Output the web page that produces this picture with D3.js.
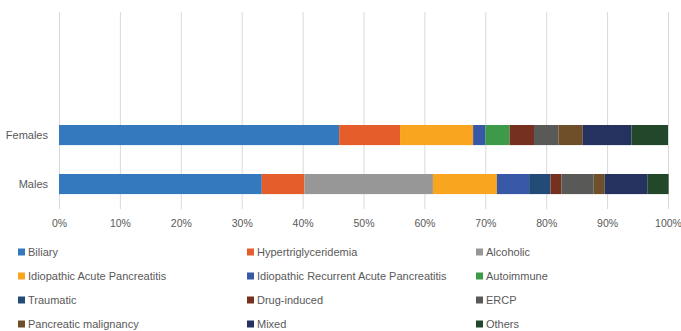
<!DOCTYPE html>
<html>
<head>
<meta charset="utf-8">
<script src="https://cdn.jsdelivr.net/npm/d3@7"></script>
<style>
  body{margin:0;background:#fff;}
  text{font-family:"Liberation Sans",Arial,sans-serif;fill:#595959;}
</style>
</head>
<body>
<div id="chart"></div>
<script>
// categories, top to bottom
var categories = ["Females", "Males"];
// series names, in stacking order
var causes = ["Biliary", "Hypertriglyceridemia", "Alcoholic",
    "Idiopathic Acute Pancreatitis", "Idiopathic Recurrent Acute Pancreatitis", "Autoimmune",
    "Traumatic", "Drug-induced", "ERCP",
    "Pancreatic malignancy", "Mixed", "Others"];
// share of each cause, in %
var females = [46.0, 10.0, 0.0, 12.0, 2.0, 4.0, 0.0, 4.0, 4.0, 4.0, 8.0, 6.0];
var males   = [33.3, 7.0, 21.1, 10.5, 5.3, 0.0, 3.5, 1.8, 5.3, 1.8, 7.0, 3.5];
var ticks = [0, 10, 20, 30, 40, 50, 60, 70, 80, 90, 100];
var colors = ["#3479bd", "#e55d2b", "#979797", "#f9a51f", "#3758a7", "#3d9a48",
    "#224b78", "#76301f", "#595a58", "#6e4f2a", "#25325f", "#22472a"];

var width = 681, height = 331;
var svg = d3.select("#chart").append("svg")
    .attr("width", width).attr("height", height);

var x = d3.scaleLinear().domain([0, 100]).range([59, 668]);
var y = d3.scaleBand().domain(categories).range([110.3, 208.8])
    .paddingInner(0.59).paddingOuter(0.3);
var color = d3.scaleOrdinal().domain(causes).range(colors);

// gridlines
svg.append("g").selectAll("line").data(ticks).enter().append("line")
    .attr("x1", function(d){return x(d)+0.5;})
    .attr("x2", function(d){return x(d)+0.5;})
    .attr("y1", 12).attr("y2", 209)
    .attr("stroke", "#d9d9d9").attr("stroke-width", 1);

// stacked bars
var rows = categories.map(function(c, i){
    var vals = i == 0 ? females : males;
    var r = {cat: c};
    causes.forEach(function(k, j){ r[k] = vals[j]; });
    return r;
});
var series = d3.stack().keys(causes)(rows);
svg.append("g").selectAll("g").data(series).enter().append("g")
    .attr("fill", function(d){return color(d.key);})
    .selectAll("rect").data(function(d){return d;}).enter().append("rect")
    .attr("x", function(d){return x(d[0]);})
    .attr("width", function(d){return x(d[1]) - x(d[0]);})
    .attr("y", function(d){return y(d.data.cat);})
    .attr("height", y.bandwidth());

// x axis labels
var xAxis = d3.axisBottom(x).tickValues(ticks)
    .tickFormat(function(d){return d + "%";}).tickSize(0).tickPadding(0);
svg.append("g").attr("transform", "translate(0,220)").call(xAxis)
    .call(function(g){g.select(".domain").remove();})
    .selectAll("text").attr("font-size", 10.5)
    .style("font-family", "Liberation Sans, Arial, sans-serif").attr("fill", "#595959");

// category labels
var yAxis = d3.axisLeft(y).tickSize(0).tickPadding(0);
svg.append("g").attr("transform", "translate(48,0)").call(yAxis)
    .call(function(g){g.select(".domain").remove();})
    .selectAll("text").attr("font-size", 11)
    .style("font-family", "Liberation Sans, Arial, sans-serif").attr("fill", "#595959");

// legend, 3 columns
var colX = [18, 247, 476];
var legend = svg.append("g").selectAll("g").data(causes).enter().append("g")
    .attr("transform", function(d, i){
        return "translate(" + colX[i % 3] + "," + (252 + Math.floor(i / 3) * 24) + ")";
    });
legend.append("rect").attr("x", 0).attr("y", -3.5).attr("width", 7).attr("height", 7)
    .attr("fill", function(d){return color(d);});
legend.append("text").attr("x", 10).attr("y", 0).attr("dy", "0.35em")
    .attr("font-size", 11).text(function(d){return d;});
</script>
</body>
</html>
